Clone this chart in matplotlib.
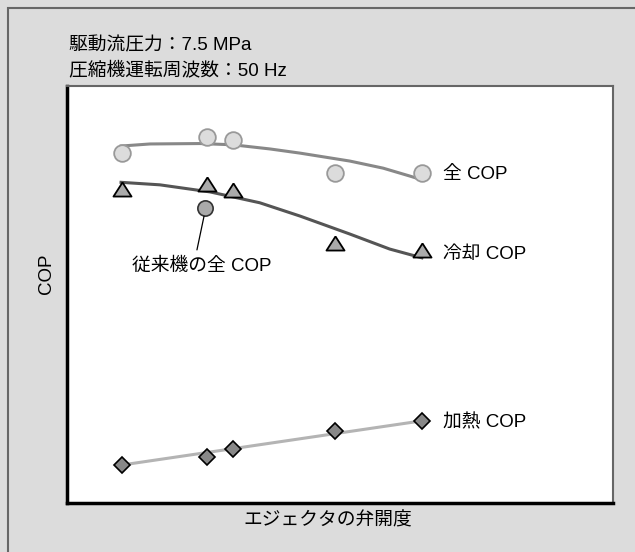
import matplotlib
matplotlib.use('Agg')
import matplotlib.pyplot as plt
from matplotlib.patches import Rectangle

plt.rcParams['font.family'] = ['Liberation Sans', 'Noto Sans CJK JP', 'DejaVu Sans']

# valve opening (arbitrary 0-100 scale), COP (arbitrary 0-100 scale)
x_pts = [10.0, 25.6, 30.4, 49.1, 65.0]
total_cop = [83.9, 87.8, 87.1, 79.1, 79.1]
cool_cop = [75.3, 76.5, 75.1, 62.4, 60.7]
heat_cop = [9.1, 11.0, 12.9, 17.3, 19.7]

total_fit_x = [9.9, 15.2, 24.4, 30.4, 37.2, 42.7, 51.8, 57.9, 62.8, 65.0]
total_fit_y = [85.6, 86.1, 86.2, 85.9, 84.9, 83.9, 82.0, 80.3, 78.4, 77.5]
cool_fit_x = [9.9, 17.0, 26.2, 35.3, 42.7, 51.8, 59.1, 65.0]
cool_fit_y = [76.9, 76.3, 74.6, 72.0, 68.8, 64.5, 60.9, 58.8]
heat_fit_x = [10.0, 65.0]
heat_fit_y = [9.1, 19.7]

conv_x = [25.3]
conv_y = [70.7]

W, H = 635, 552
fig = plt.figure(figsize=(W / 100, H / 100), dpi=100, facecolor='#dcdcdc')

# outer frame
fig.add_artist(Rectangle((8 / W, -0.1), 1.2, 1.1 - 8 / H, transform=fig.transFigure,
                         fill=False, edgecolor='#666666', lw=1.5))

ax = fig.add_axes([67 / W, (H - 503) / H, (613 - 67) / W, (503 - 86) / H])
ax.set_facecolor('white')
ax.set_xlim(0, 100)
ax.set_ylim(0, 100)
ax.set_xticks([])
ax.set_yticks([])
for s in ['left', 'bottom']:
    ax.spines[s].set_linewidth(2.5)
    ax.spines[s].set_color('black')
for s in ['top', 'right']:
    ax.spines[s].set_linewidth(1.5)
    ax.spines[s].set_color('#666666')

tri = [(0, 0.78), (-1, -0.78), (1, -0.78), (0, 0.78)]

ax.plot(total_fit_x, total_fit_y, color='#888888', lw=2.2, zorder=2)
ax.plot(x_pts, total_cop, 'o', ms=12, mfc='#dcdcdc', mec='#999999', mew=1.3, zorder=3)

ax.plot(cool_fit_x, cool_fit_y, color='#555555', lw=2.2, zorder=2)
ax.plot(x_pts, cool_cop, linestyle='none', marker=tri, ms=13, mfc='#aaaaaa', mec='black',
        mew=1.3, zorder=3)

ax.plot(heat_fit_x, heat_fit_y, color='#b4b4b4', lw=2.2, zorder=2)
ax.plot(x_pts, heat_cop, 'D', ms=8.5, mfc='#888888', mec='black', mew=1.2, zorder=3)

ax.plot(conv_x, conv_y, 'o', ms=11, mfc='#aaaaaa', mec='#333333', mew=1.2, zorder=3)
ax.annotate('', xy=(25.1, 68.8), xytext=(23.8, 60.7),
            arrowprops=dict(arrowstyle='-', color='black', lw=0.9, shrinkA=0, shrinkB=0))
ax.text(24.7, 56.8, '従来機の全 COP', fontsize=13.5, ha='center', va='center')

ax.text(68.9, 78.7, '全 COP', fontsize=13.5, va='center', ha='left')
ax.text(68.9, 59.5, '冷却 COP', fontsize=13.5, va='center', ha='left')
ax.text(68.9, 19.2, '加熱 COP', fontsize=13.5, va='center', ha='left')

fig.text(69 / W, 1 - 46 / H, '駆動流圧力：7.5 MPa', fontsize=13.5, va='center', ha='left')
fig.text(69 / W, 1 - 70 / H, '圧縮機運転周波数：50 Hz', fontsize=13.5, va='center', ha='left')
fig.text(328 / W, 1 - 521 / H, 'エジェクタの弁開度', fontsize=13.5, va='center', ha='center')
fig.text(46 / W, 1 - 274 / H, 'COP', fontsize=13.5, va='center', ha='center', rotation=90)

fig.savefig('out.png', dpi=100, facecolor=fig.get_facecolor())
